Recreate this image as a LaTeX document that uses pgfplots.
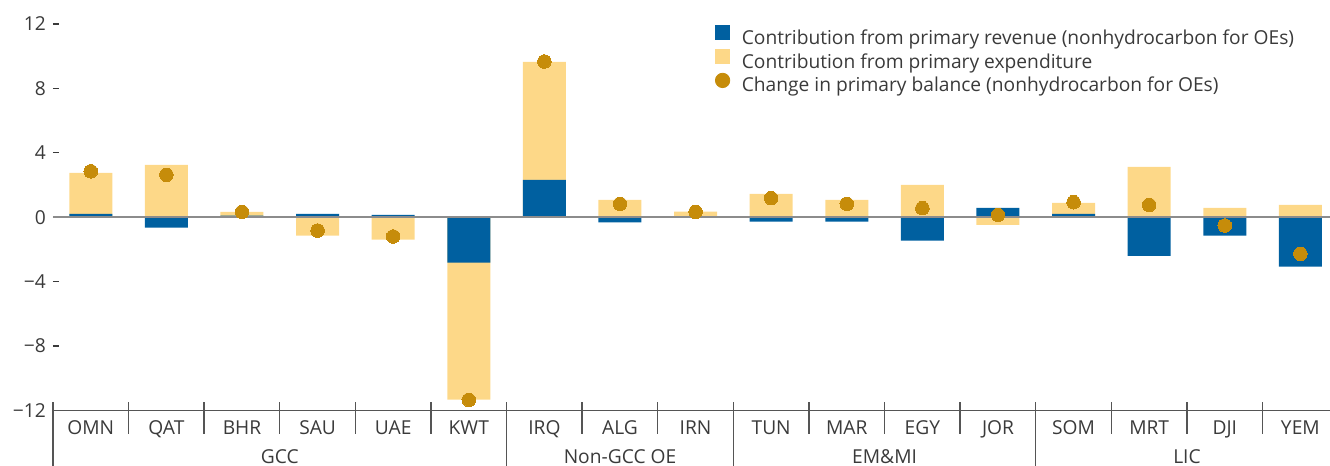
\documentclass[border=0pt]{standalone}
\usepackage{fontspec}
\setmainfont{Open Sans}
\usepackage{pgfplots}
\pgfplotsset{compat=1.18}
\usepackage{pgfplotstable}
\definecolor{revblue}{HTML}{0060A0}
\definecolor{expyel}{HTML}{FDD888}
\definecolor{dotc}{HTML}{C68C0A}
\definecolor{txt}{HTML}{3A3A3A}
\definecolor{axg}{HTML}{555555}
\definecolor{zerog}{HTML}{8C8C8C}

% rev = contribution from primary revenue, exp = contribution from primary expenditure,
% bal = change in primary balance
\pgfplotstableread{
x  rev    exp    bal
0   0.20   2.55   2.85
1  -0.65   3.25   2.63
2   0.10   0.23   0.33
3   0.20  -1.14  -0.83
4   0.14  -1.39  -1.20
5  -2.82  -8.51 -11.35
6   2.32   7.33   9.67
7  -0.33   1.07   0.83
8  -0.03   0.35   0.33
9  -0.27   1.45   1.18
10 -0.27   1.07   0.83
11 -1.45   2.00   0.56
12  0.58  -0.48   0.14
13  0.20   0.69   0.93
14 -2.40   3.12   0.76
15 -1.14   0.58  -0.52
16 -3.07   0.76  -2.28
}\data

\newcommand{\chartfont}{\fontsize{9.6}{11.5}\selectfont}

\begin{document}
\begin{tikzpicture}[font=\chartfont, text=txt]
\begin{axis}[
  scale only axis, x=37.8pt, y=8.05pt,
  xmin=-0.5, xmax=16.392, ymin=-12, ymax=13.49,
  clip=false,
  axis x line*=bottom, axis y line*=left,
  x axis line style={draw=axg, line width=0.7pt, -},
  y axis line style={draw=none, -},
  xtick={0,...,16},
  xticklabels={OMN,QAT,BHR,SAU,UAE,KWT,IRQ,ALG,IRN,TUN,MAR,EGY,JOR,SOM,MRT,DJI,YEM},
  x tick style={draw=none},
  xticklabel style={anchor=base, yshift=-12.15pt, text=txt, font=\chartfont},
  ytick={-12,-8,-4,0,4,8,12},
  yticklabels={−12,−8,−4,0,4,8,12},
  y tick style={draw=txt, line width=0.6pt},
  tick align=inside, major tick length=3.2pt,
  yticklabel style={text=txt, font=\chartfont},
  legend cell align=left,
  legend style={at={(0.5184,0.939)}, anchor=north west, draw=none, fill=none,
    inner sep=0pt, outer sep=0pt, row sep=0.5pt, font=\chartfont,
    nodes={inner sep=0pt, text height=6.8pt, text depth=1.9pt, text=txt},
    /tikz/every odd column/.append style={column sep=5.8pt}},
]
\addlegendimage{legend image code/.code={\fill[revblue] (0pt,-0.3pt) rectangle (7pt,6.9pt);}}
\addlegendentry{Contribution from primary revenue (nonhydrocarbon for OEs)}
\addlegendimage{legend image code/.code={\fill[expyel] (0pt,-0.3pt) rectangle (7pt,6.9pt);}}
\addlegendentry{Contribution from primary expenditure}
\addlegendimage{legend image code/.code={\fill[dotc] (3.5pt,3.3pt) circle (3.6pt);}}
\addlegendentry{Change in primary balance (nonhydrocarbon for OEs)}

% expenditure segment: stacked on the revenue bar when both share a sign
\addplot[ybar, bar width=21.5pt, bar shift=0pt, fill=expyel, draw=none, forget plot]
  table[x=x, y expr={(\thisrow{rev}*\thisrow{exp}>0) ? (\thisrow{rev}+\thisrow{exp}) : (\thisrow{exp})}] {\data};
\addplot[ybar, bar width=21.5pt, bar shift=0pt, fill=revblue, draw=none, forget plot]
  table[x=x, y=rev] {\data};
\addplot[zerog, line width=0.8pt, forget plot] coordinates {(-0.5,0) (16.392,0)};
\addplot[only marks, color=dotc, mark=*, mark size=3.4pt, mark options={fill=dotc, draw=dotc, line width=0pt}, forget plot]
  table[x=x, y=bal] {\data};

\pgfplotsinvokeforeach{0.5,1.5,2.5,3.5,4.5,6.5,7.5,9.5,10.5,11.5,13.5,14.5,15.5}{
  \draw[axg, line width=0.7pt] (axis cs:#1,-11.5) -- (axis cs:#1,-13.49);
}
\pgfplotsinvokeforeach{-0.5,5.5,8.5,12.5}{
  \draw[axg, line width=0.7pt] (axis cs:#1,-11.5) -- (axis cs:#1,-15.8);
}
\node[anchor=base, text=txt, inner sep=0pt] at (axis cs:2.5,-15.3) {GCC};
\node[anchor=base, text=txt, inner sep=0pt] at (axis cs:7,-15.3) {Non-GCC OE};
\node[anchor=base, text=txt, inner sep=0pt] at (axis cs:10.5,-15.3) {EM\&MI};
\node[anchor=base, text=txt, inner sep=0pt] at (axis cs:14.5,-15.3) {LIC};

\coordinate (BBsw) at (axis cs:-1.201,-15.416);
\coordinate (BBne) at (axis cs:16.392,13.49);
\end{axis}
\pgfresetboundingbox
\path[use as bounding box] (BBsw) rectangle (BBne);
\end{tikzpicture}
\end{document}
